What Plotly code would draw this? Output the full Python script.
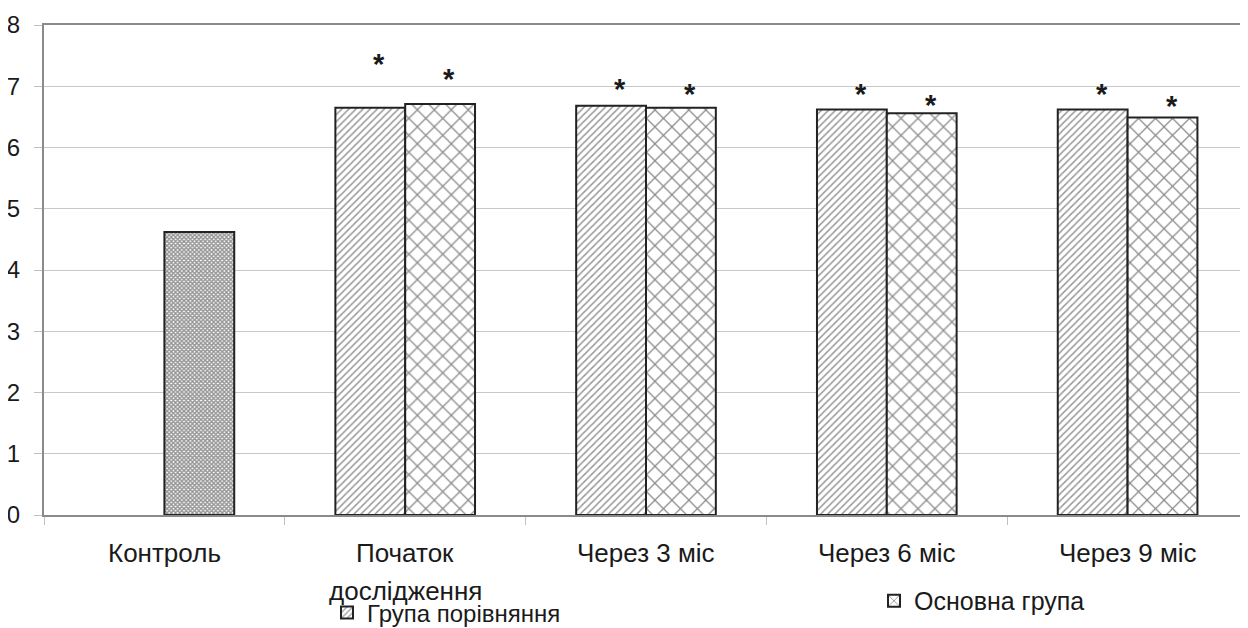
import plotly.graph_objects as go

categories = ["Контроль", "Початок дослідження", "Через 3 міс", "Через 6 міс", "Через 9 міс"]
label_lines = [["Контроль"], ["Початок", "дослідження"], ["Через 3 міс"], ["Через 6 міс"], ["Через 9 міс"]]
study_cats = categories[1:]
control_value = [4.62]
comparison_group = [6.65, 6.68, 6.62, 6.62]
main_group = [6.71, 6.65, 6.56, 6.49]
star_comparison = [7.46, 7.05, 6.97, 6.97]
star_main = [7.21, 6.97, 6.80, 6.77]
y_ticks = [0, 1, 2, 3, 4, 5, 6, 7, 8]

FONT = "Liberation Sans, Arial, sans-serif"
TXT = "#1a1a1a"
EDGE = "#222222"
BARGAP = 0.42

fig = go.Figure()
fig.add_trace(go.Bar(
    name="Група порівняння", x=study_cats, y=comparison_group, offsetgroup="a",
    marker=dict(color="white", line=dict(color=EDGE, width=2),
                pattern=dict(shape="/", size=5, solidity=0.3, fgcolor="#333333", bgcolor="white")),
    legend="legend",
))
fig.add_trace(go.Bar(
    name="Основна група", x=study_cats, y=main_group, offsetgroup="b",
    marker=dict(color="white", line=dict(color=EDGE, width=2),
                pattern=dict(shape="x", size=12, solidity=0.2, fgcolor="#1a1a1a", bgcolor="white")),
    legend="legend2",
))
fig.add_trace(go.Bar(
    name="Контроль", x=categories[:1], y=control_value, offsetgroup="b", showlegend=False,
    marker=dict(color="white", line=dict(color=EDGE, width=2),
                pattern=dict(shape="x", size=3, solidity=0.7, fgcolor="#2a2a2a", bgcolor="white")),
))

half = (1 - BARGAP) / 4
annotations = []
for i, (a, b) in enumerate(zip(star_comparison, star_main), start=1):
    for xv, yv in ((i - half, a), (i + half, b)):
        annotations.append(dict(x=xv, y=yv, xref="x", yref="y", text="<b>*</b>", showarrow=False,
                                xshift=9, yshift=-6, yanchor="middle",
                                font=dict(family=FONT, size=29, color=TXT)))
line_y = [-0.0776, -0.156]
for i, lines in enumerate(label_lines):
    for j, t in enumerate(lines):
        annotations.append(dict(x=i, y=line_y[j], xref="x", yref="paper", text=t, showarrow=False,
                                yanchor="middle", xanchor="center",
                                font=dict(family=FONT, size=26, color=TXT)))

# page body has an 8px margin, so the figure is sized to fit the 1248x628 window
fig.update_layout(
    width=1240, height=620,
    margin=dict(l=36, r=0, t=17, b=113, autoexpand=False),
    paper_bgcolor="white", plot_bgcolor="white",
    barmode="group", bargap=BARGAP, bargroupgap=0,
    font=dict(family=FONT, color=TXT),
    annotations=annotations,
    legend=dict(x=(327 - 44) / 1204, y=-0.200, xanchor="left", yanchor="middle",
                font=dict(family=FONT, size=24, color=TXT), bgcolor="rgba(0,0,0,0)"),
    legend2=dict(x=(874 - 44) / 1204, y=-0.1755, xanchor="left", yanchor="middle",
                 font=dict(family=FONT, size=25, color=TXT), bgcolor="rgba(0,0,0,0)"),
)
fig.update_xaxes(
    type="category", categoryorder="array", categoryarray=categories,
    range=[-0.5, len(categories) - 0.5],
    showticklabels=False, showline=True, linecolor="#8a8a8a", linewidth=2, mirror=True,
    ticks="outside", tickson="boundaries", ticklen=8, tickcolor="#c0c0c0", tickwidth=1,
    showgrid=False, zeroline=False,
)
fig.update_yaxes(
    range=[0, 8], tickvals=y_ticks, showline=True, linecolor="#8a8a8a", linewidth=2,
    showgrid=True, gridcolor="#c8c8c8", gridwidth=1, zeroline=False,
    ticks="outside", ticklen=8, tickcolor="#c0c0c0", tickwidth=1, ticklabelstandoff=9,
    tickfont=dict(family=FONT, size=24, color=TXT),
)
fig.write_html("out.html")
